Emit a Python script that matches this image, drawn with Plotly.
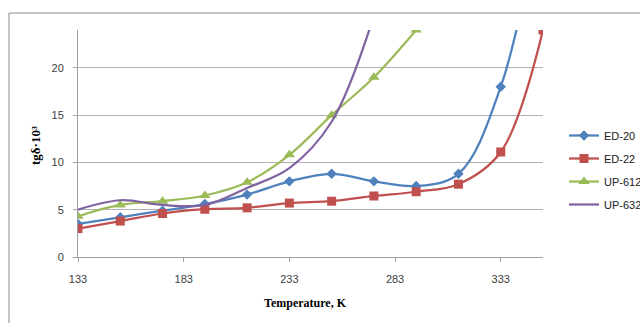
import plotly.graph_objects as go

temps = [133, 153, 173, 193, 213, 233, 253, 273, 293, 313, 333, 353]
ed20 = [3.5, 4.2, 4.9, 5.6, 6.6, 8.0, 8.8, 8.0, 7.5, 8.8, 18.0, 38.0]
ed22 = [3.0, 3.8, 4.6, 5.05, 5.2, 5.7, 5.9, 6.45, 6.9, 7.7, 11.1, 24.0]
up612 = [4.3, 5.5, 5.9, 6.5, 7.9, 10.8, 15.0, 19.0, 24.0]
up632 = [5.0, 6.0, 5.5, 5.5, 7.3, 9.4, 14.3, 25.5]
x_ticks = [133, 183, 233, 283, 333]
y_ticks = [0, 5, 10, 15, 20]

W, H = 640, 323
L, R, T, B = 78, 97, 30, 66
pw, ph = W - L - R, H - T - B

def px(xp):
    return (xp - L) / pw

def py(yp):
    return (H - B - yp) / ph

fig = go.Figure()
series = [
    ("ED-20", ed20, "#4F81BD", "diamond", 8),
    ("ED-22", ed22, "#C0504D", "square", 9),
    ("UP-612", up612, "#9BBB59", "triangle-up", 10),
    ("UP-632", up632, "#8064A2", None, 0),
]
for name, vals, col, sym, size in series:
    fig.add_trace(go.Scatter(
        x=temps[:len(vals)], y=vals, name=name, legendgroup=name,
        mode="lines+markers" if sym else "lines",
        line=dict(color=col, width=2.25, shape="spline", smoothing=1),
        marker=dict(symbol=sym, size=size, color=col) if sym else None,
        cliponaxis=True,
    ))

fig.update_layout(
    template="none",
    width=W, height=H,
    margin=dict(l=L, r=R, t=T, b=B, autoexpand=False),
    paper_bgcolor="white", plot_bgcolor="white",
    font=dict(family="Liberation Sans", size=11, color="#404040"),
    legend=dict(x=px(564), y=py(121), xanchor="left", yanchor="top",
                font=dict(size=11, color="#202020"),
                traceorder="grouped", tracegroupgap=4,
                bgcolor="rgba(0,0,0,0)", borderwidth=0),
    xaxis=dict(range=[133, 353], tickvals=x_ticks, showgrid=False, automargin=False,
               showline=True, linecolor="#a0a0a0", linewidth=1,
               ticks="outside", ticklen=4, tickcolor="#a0a0a0",
               ticklabelstandoff=8, zeroline=False),
    yaxis=dict(range=[0, 24], tickvals=y_ticks, showgrid=True, automargin=False,
               gridcolor="#b0b0b0", gridwidth=1,
               showline=True, linecolor="#a0a0a0", linewidth=1,
               ticks="outside", ticklen=4, tickcolor="#a0a0a0",
               ticklabelstandoff=7, zeroline=False),
    annotations=[
        dict(text="<b>Temperature, K</b>", x=px(305), y=py(303), xref="paper", yref="paper",
             xanchor="center", yanchor="middle",
             showarrow=False, font=dict(family="Liberation Serif", size=12, color="#000000")),
        dict(text="<b>tgδ·10³</b>", x=px(35), y=py(146), xref="paper", yref="paper",
             xanchor="center", yanchor="middle",
             textangle=-90, showarrow=False,
             font=dict(family="Liberation Serif", size=13, color="#000000")),
    ],
    shapes=[
        dict(type="line", xref="paper", yref="paper", x0=px(9), x1=px(645), y0=py(13), y1=py(13),
             line=dict(color="#8c8c8c", width=1)),
        dict(type="line", xref="paper", yref="paper", x0=px(9), x1=px(9), y0=py(13), y1=py(330),
             line=dict(color="#8c8c8c", width=1)),
    ],
)

fig.write_html("out.html", config={"displayModeBar": False},
               post_script="document.body.style.margin='0';document.body.style.overflow='hidden';")
